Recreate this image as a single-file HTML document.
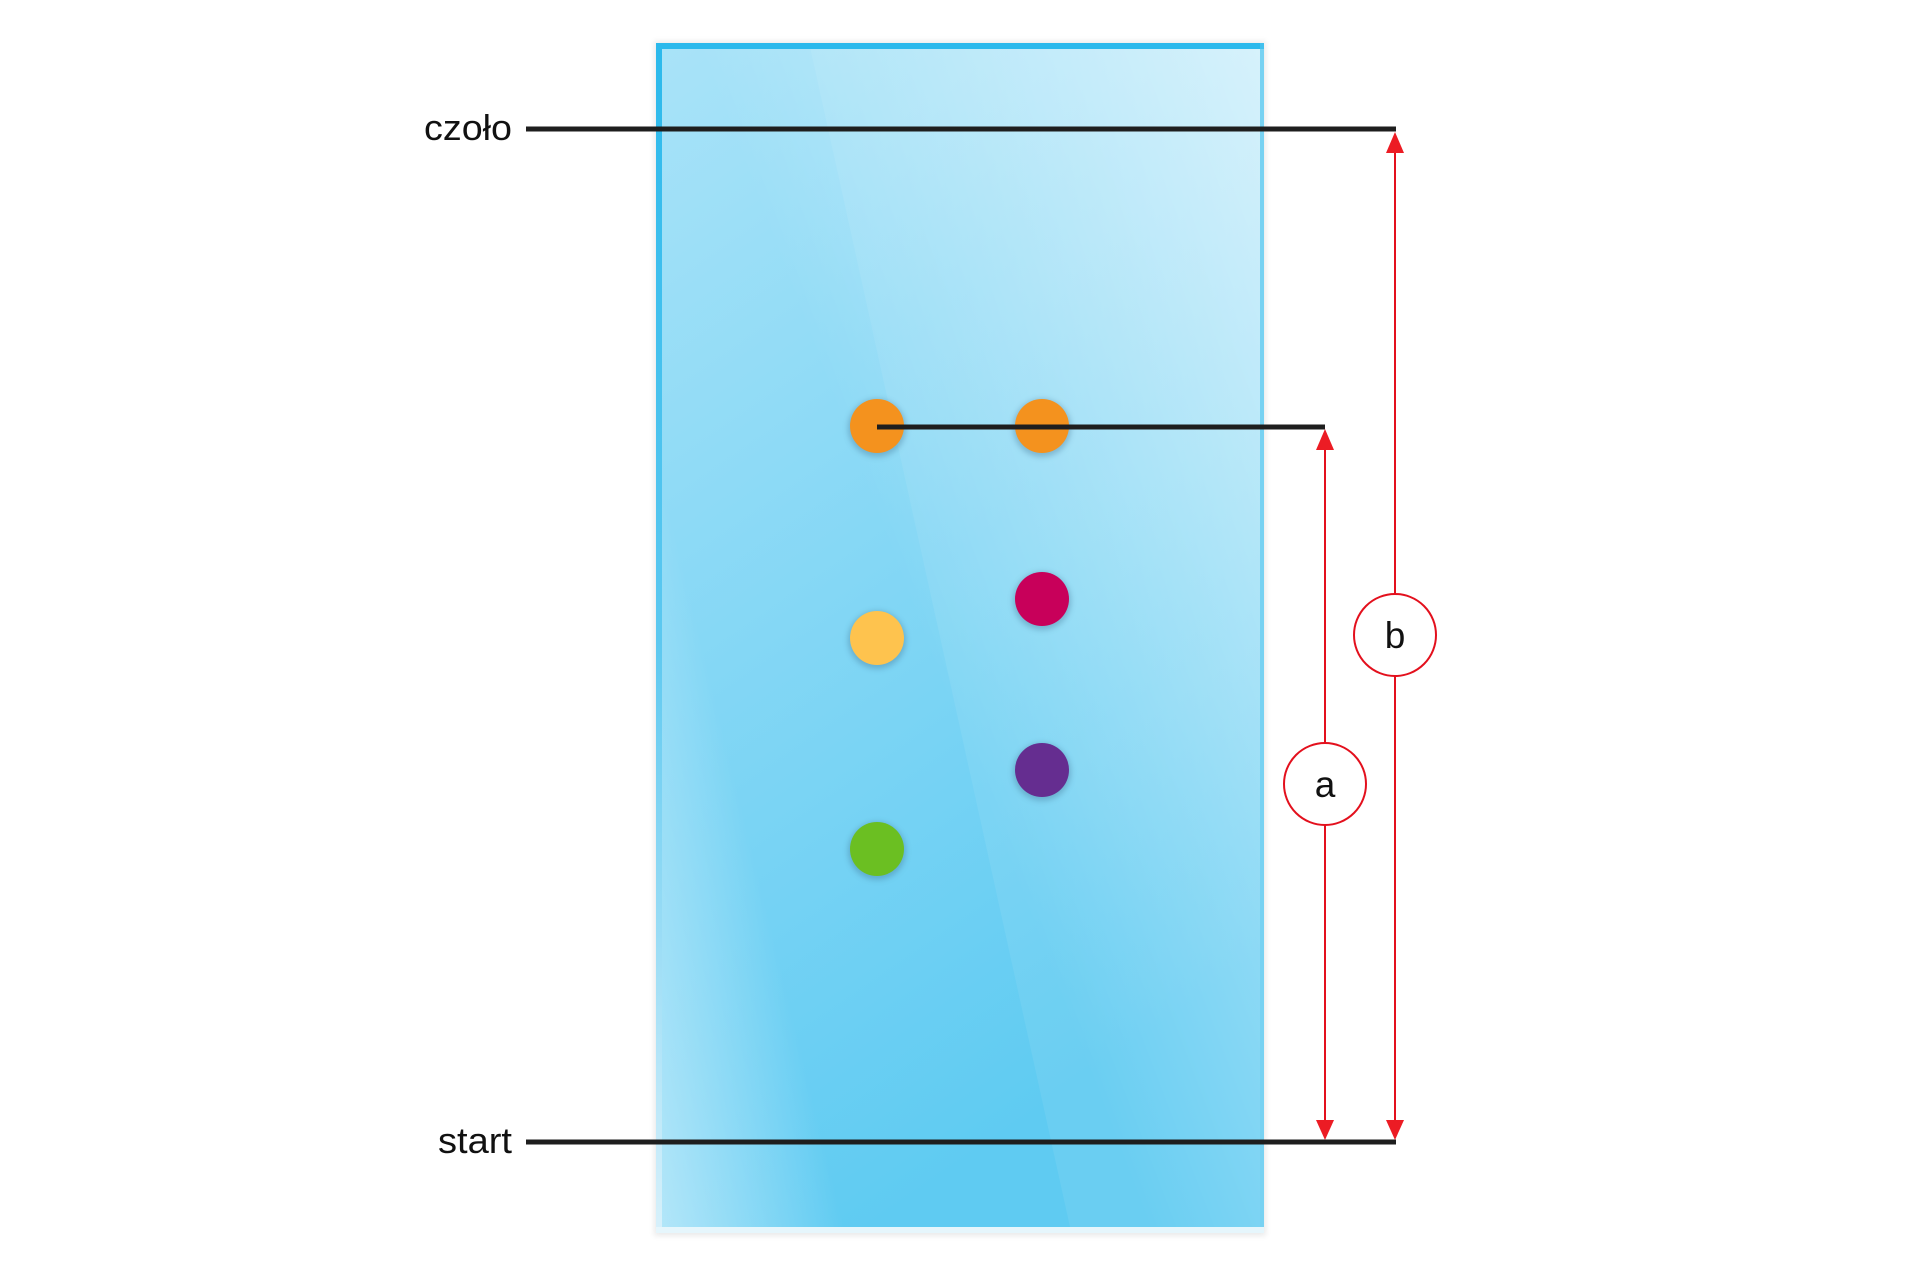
<!DOCTYPE html>
<html><head><meta charset="utf-8"><style>
html,body{margin:0;padding:0;background:#fff;width:1920px;height:1277px;overflow:hidden}
svg{display:block}
</style></head><body>
<svg width="1920" height="1277" viewBox="0 0 1920 1277" xmlns="http://www.w3.org/2000/svg">
<defs>
<linearGradient id="pl" x1="0" y1="0" x2="0.35" y2="1">
<stop offset="0" stop-color="#a9e3f8"/>
<stop offset="1" stop-color="#5fcbf2"/>
</linearGradient>
<linearGradient id="hl" x1="1" y1="0" x2="0.4" y2="0.45">
<stop offset="0" stop-color="#fff" stop-opacity="0.6"/>
<stop offset="1" stop-color="#fff" stop-opacity="0"/>
</linearGradient>
<linearGradient id="bl" x1="0" y1="1" x2="0.25" y2="0.88">
<stop offset="0" stop-color="#fff" stop-opacity="0.5"/>
<stop offset="1" stop-color="#fff" stop-opacity="0"/>
</linearGradient>
<linearGradient id="lb" x1="0" y1="0" x2="0" y2="1">
<stop offset="0" stop-color="#2bb9ec"/>
<stop offset="0.5" stop-color="#5cc8f0"/>
<stop offset="1" stop-color="#d8f1fb"/>
</linearGradient>
<filter id="sh" x="-50%" y="-50%" width="200%" height="200%"><feGaussianBlur stdDeviation="3"/></filter>
</defs>
<rect x="654" y="41" width="612" height="1195" fill="#000" opacity="0.08" filter="url(#sh)"/>
<rect x="656" y="43" width="608" height="1190" fill="#dff3fb"/>
<rect x="660" y="47" width="600" height="1180" fill="url(#pl)"/>
<polygon points="810,47 1260,47 1260,1227 1070,1227" fill="#fff" opacity="0.07"/>
<rect x="660" y="47" width="600" height="1180" fill="url(#hl)"/>
<rect x="660" y="47" width="600" height="1180" fill="url(#bl)"/>
<rect x="656" y="43" width="608" height="6" fill="#2bb9ec"/>
<rect x="656" y="43" width="6" height="1190" fill="url(#lb)"/>
<rect x="1260" y="43" width="4" height="1190" fill="#4cc3ee" opacity="0.7"/>
<rect x="656" y="1227" width="608" height="6" fill="#e6f6fc"/>
<circle cx="877" cy="428" r="29" fill="#3a6a8a" opacity="0.35" filter="url(#sh)"/>
<circle cx="1042" cy="428" r="29" fill="#3a6a8a" opacity="0.35" filter="url(#sh)"/>
<circle cx="1042" cy="601" r="29" fill="#3a6a8a" opacity="0.35" filter="url(#sh)"/>
<circle cx="877" cy="640" r="29" fill="#3a6a8a" opacity="0.35" filter="url(#sh)"/>
<circle cx="1042" cy="772" r="29" fill="#3a6a8a" opacity="0.35" filter="url(#sh)"/>
<circle cx="877" cy="851" r="29" fill="#3a6a8a" opacity="0.35" filter="url(#sh)"/>
<circle cx="877" cy="426" r="27" fill="#f4921e"/>
<circle cx="1042" cy="426" r="27" fill="#f4921e"/>
<circle cx="1042" cy="599" r="27" fill="#c8005a"/>
<circle cx="877" cy="638" r="27" fill="#fec34e"/>
<circle cx="1042" cy="770" r="27" fill="#652d90"/>
<circle cx="877" cy="849" r="27" fill="#6bbf22"/>
<g stroke="#1e1e1e" stroke-width="5">
<line x1="526" y1="129" x2="1396" y2="129"/>
<line x1="526" y1="1142" x2="1396" y2="1142"/>
<line x1="877" y1="427" x2="1325" y2="427"/>
</g>
<g stroke="#e3101d" stroke-width="2" fill="none">
<line x1="1325" y1="440" x2="1325" y2="1128"/>
<line x1="1395" y1="143" x2="1395" y2="1128"/>
</g>
<g fill="#ec1c24">
<polygon points="1325,429 1316,450 1334,450"/>
<polygon points="1325,1140 1316,1120 1334,1120"/>
<polygon points="1395,132 1386,153 1404,153"/>
<polygon points="1395,1140 1386,1120 1404,1120"/>
</g>
<circle cx="1325" cy="784" r="41" fill="#fff" stroke="#e3101d" stroke-width="2"/>
<circle cx="1395" cy="635" r="41" fill="#fff" stroke="#e3101d" stroke-width="2"/>
<g font-family="Liberation Sans, sans-serif" fill="#111">
<text x="1325" y="797" font-size="37" text-anchor="middle">a</text>
<text x="1395" y="648" font-size="37" text-anchor="middle">b</text>
<text x="512" y="140" font-size="36" text-anchor="end" textLength="88" lengthAdjust="spacingAndGlyphs">czoło</text>
<text x="512" y="1153" font-size="36" text-anchor="end" textLength="74" lengthAdjust="spacingAndGlyphs">start</text>
</g>
</svg>
</body></html>
